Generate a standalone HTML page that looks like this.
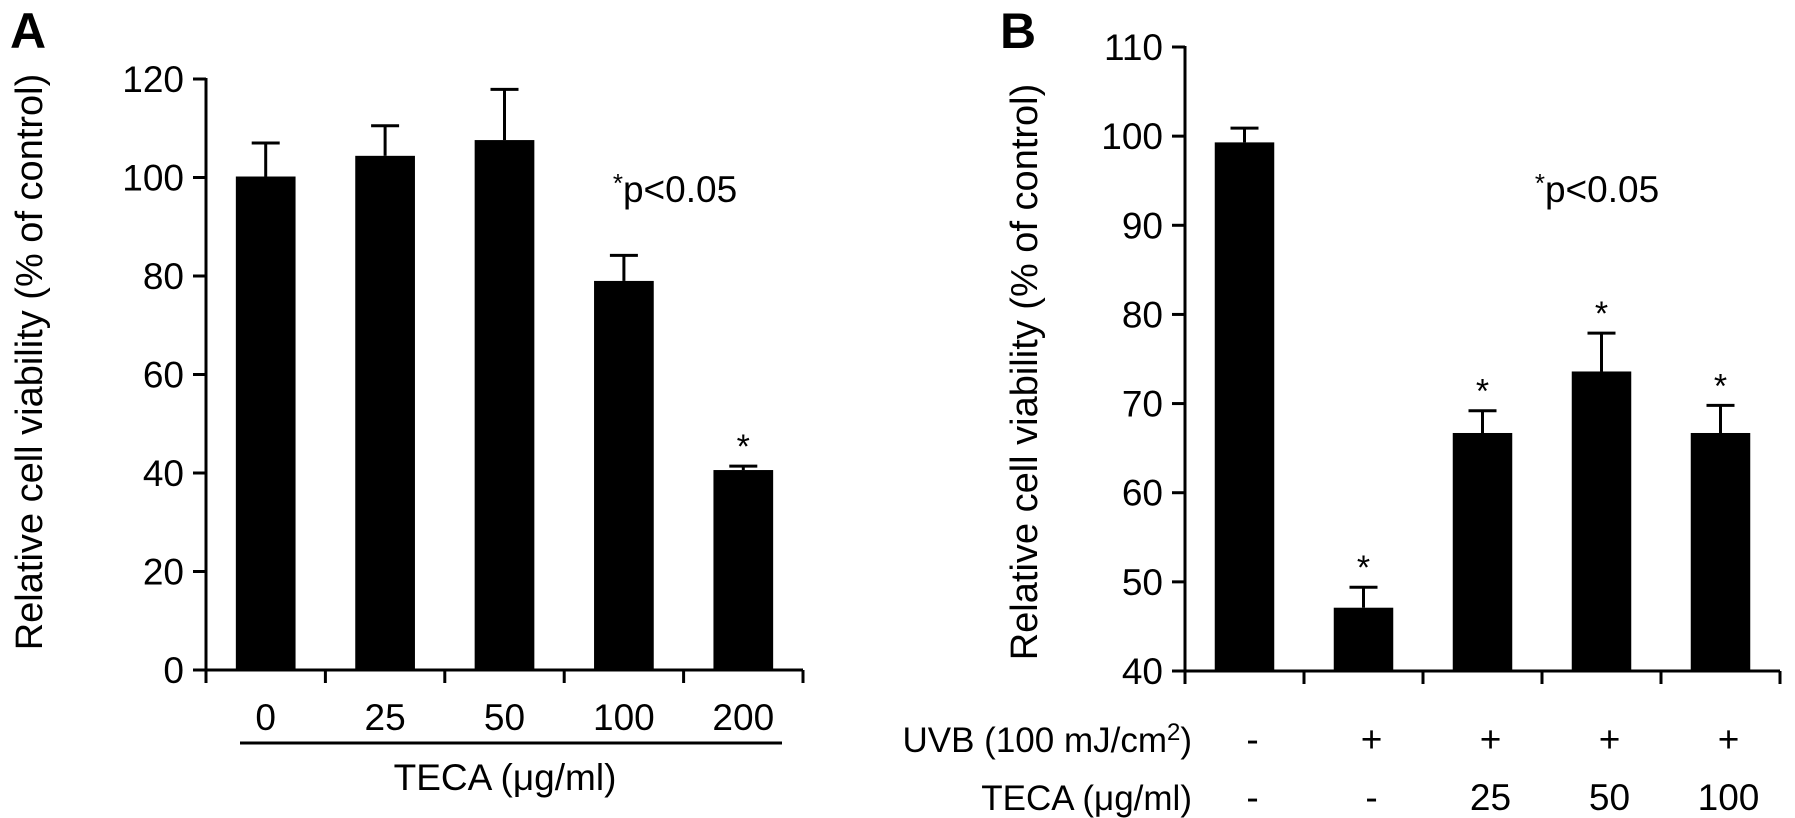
<!DOCTYPE html>
<html><head><meta charset="utf-8"><style>
html,body{margin:0;padding:0;background:#fff;}
svg{display:block;font-family:"Liberation Sans",Arial,sans-serif;}
</style></head><body>
<svg id="fig" width="1795" height="818" viewBox="0 0 1795 818"></svg>
<script>
// Panel A data
const catsA = ["0","25","50","100","200"];
const valsA = [100.2, 104.4, 107.6, 79.0, 40.6];
const errA = [6.8, 6.1, 10.3, 5.2, 0.8];
const sigA = [false,false,false,false,true];
const ticksA = [0,20,40,60,80,100,120];
// Panel B data
const uvbB = ["-","+","+","+","+"];
const tecaB = ["-","-","25","50","100"];
const valsB = [99.3, 47.1, 66.7, 73.6, 66.7];
const errB = [1.6, 2.3, 2.5, 4.3, 3.1];
const sigB = [false,true,true,true,true];
const ticksB = [40,50,60,70,80,90,100,110];

const NS="http://www.w3.org/2000/svg";
const svg=document.getElementById('fig');
function mk(tag,attrs,parent){const e=document.createElementNS(NS,tag);for(const k in attrs)e.setAttribute(k,attrs[k]);(parent||svg).appendChild(e);return e;}
function txt(s,attrs,parent){const e=mk('text',attrs,parent);e.textContent=s;return e;}

function panel(o){
  const g=mk('g',{});
  
  
  const y=v=>o.y0-(v-o.vmin)/(o.vmax-o.vmin)*(o.y0-o.ytop);
  const n=o.vals.length, bw=(o.xEnd-o.x0)/n;
  const xc=i=>o.x0+bw*(i+0.5);
  const ya=mk('line',{x1:o.x0,y1:o.ytop-1,x2:o.x0,y2:o.y0+13,stroke:'#000','stroke-width':3},g);
  
  
  o.ticks.forEach(t=>{
    const tl=mk('line',{x1:o.x0-13,y1:y(t),x2:o.x0,y2:y(t),stroke:'#000','stroke-width':3},g);
    
    
    const lb=txt(String(t),{x:o.x0-22,y:y(t)+13,'text-anchor':'end','font-size':37},g);
    
    
  });
  const xa=mk('line',{x1:o.x0,y1:o.y0,x2:o.xEnd,y2:o.y0,stroke:'#000','stroke-width':3},g);
  
  
  for(let i=0;i<=n;i++){
    const xt=mk('line',{x1:o.x0+bw*i,y1:o.y0,x2:o.x0+bw*i,y2:o.y0+13,stroke:'#000','stroke-width':3},g);
    
    
  }
  o.vals.forEach((v,i)=>{
    const w=bw*0.5, cx=xc(i);
    const et=y(v+o.err[i]);
    const el=mk('line',{x1:cx,y1:y(v),x2:cx,y2:et,stroke:'#000','stroke-width':3},g);
    
    
    const ec=mk('line',{x1:cx-14,y1:et,x2:cx+14,y2:et,stroke:'#000','stroke-width':3},g);
    
    
    const r=mk('rect',{x:cx-w/2,y:y(v),width:w,height:o.y0-y(v),fill:'#000'},g);
    
    
    if(o.sig[i]){
      const s=txt('*',{x:cx,y:et-8,'text-anchor':'middle','font-size':34},g);
      
      
    }
  });
  return {g,xc,y};
}

const A=panel({name:'panel-a-chart',x0:206,xEnd:803,y0:670,ytop:79,vmin:0,vmax:120,vals:valsA,err:errA,sig:sigA,ticks:ticksA});
const la=txt('A',{x:10,y:48,'font-size':50,'font-weight':'bold'});


const yta=txt('Relative cell viability (% of control)',{x:0,y:0,'text-anchor':'middle','font-size':38,transform:'translate(42,362) rotate(-90)'});


catsA.forEach((c,i)=>{
  const t=txt(c,{x:A.xc(i),y:730,'text-anchor':'middle','font-size':37});
  
  
});
const ul=mk('line',{x1:240,y1:743,x2:782,y2:743,stroke:'#000','stroke-width':3});


const xta=txt('TECA  (μg/ml)',{x:505,y:790,'text-anchor':'middle','font-size':37});


const pa=txt('',{x:675,y:202,'text-anchor':'middle','font-size':37});
pa.innerHTML='<tspan font-size="26" dy="-10">*</tspan><tspan dy="10">p&lt;0.05</tspan>';



const B=panel({name:'panel-b-chart',x0:1185,xEnd:1780,y0:671,ytop:47,vmin:40,vmax:110,vals:valsB,err:errB,sig:sigB,ticks:ticksB});
const lb=txt('B',{x:1000,y:48,'font-size':50,'font-weight':'bold'});


const ytb=txt('Relative cell viability (% of control)',{x:0,y:0,'text-anchor':'middle','font-size':38,transform:'translate(1037,372) rotate(-90)'});


const uv=txt('',{x:1192,y:752,'text-anchor':'end','font-size':35});
uv.innerHTML='UVB  (100 mJ/cm<tspan font-size="24" dy="-12">2</tspan><tspan dy="12">)</tspan>';


const tb=txt('TECA (μg/ml)',{x:1192,y:810,'text-anchor':'end','font-size':35});


uvbB.forEach((c,i)=>{
  const t=txt(c,{x:B.xc(i)+8,y:752,'text-anchor':'middle','font-size':37});
  
  
});
tecaB.forEach((c,i)=>{
  const t=txt(c,{x:B.xc(i)+8,y:810,'text-anchor':'middle','font-size':37});
  
  
});
const pb=txt('',{x:1597,y:202,'text-anchor':'middle','font-size':37});
pb.innerHTML='<tspan font-size="26" dy="-10">*</tspan><tspan dy="10">p&lt;0.05</tspan>';


</script>
</body></html>
